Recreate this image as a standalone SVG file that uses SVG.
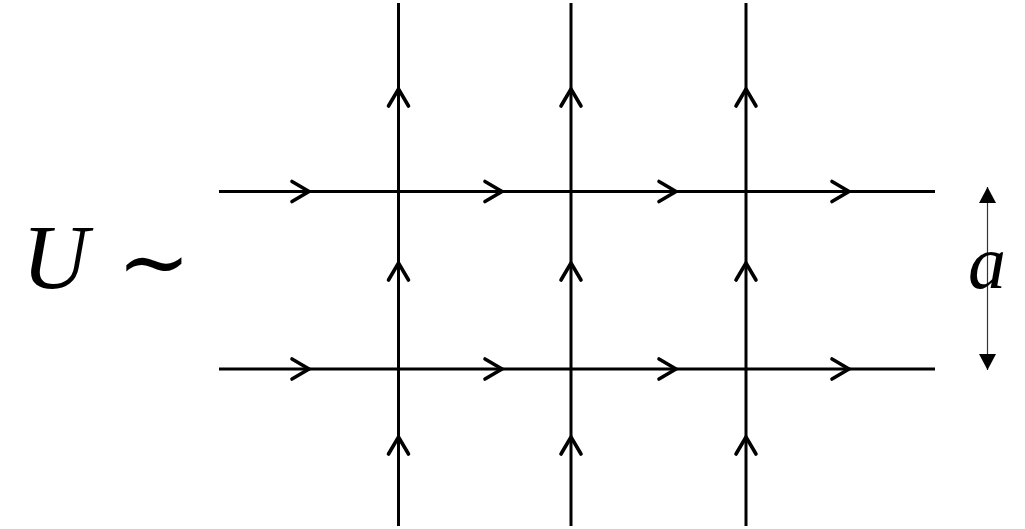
<svg xmlns="http://www.w3.org/2000/svg" xmlns:xlink="http://www.w3.org/1999/xlink" width="1025" height="529" viewBox="0 0 1025 529">
<style>
.ln{stroke:#000;stroke-width:3;fill:none}
.chev{stroke:#000;stroke-width:3.6;fill:none;stroke-linecap:round;stroke-linejoin:miter}
.dim{stroke:#333;stroke-width:1.2;fill:none}
.math{font-family:"Liberation Serif","DejaVu Serif",serif;fill:#000}
</style>
<defs>
<path id="chR" class="chev" d="M -17 -10 L 0 0 L -17 10"/>
<path id="chU" class="chev" d="M -10 17 L 0 0 L 10 17"/>
<marker id="tri" viewBox="0 0 10 10" refX="10" refY="5" markerWidth="16" markerHeight="17" markerUnits="userSpaceOnUse" orient="auto-start-reverse" preserveAspectRatio="none">
<path d="M0,0 L10,5 L0,10 z" fill="#000"/>
</marker>
</defs>
<rect width="1025" height="529" fill="#fff"/>
<g id="connectors">
<g id="horizontal">
<line class="ln" x1="219" y1="191.5" x2="935" y2="191.5"/>
<line class="ln" x1="219" y1="369" x2="935" y2="369"/>
</g>
<g id="vertical">
<line class="ln" x1="398.5" y1="3" x2="398.5" y2="526"/>
<line class="ln" x1="571" y1="3" x2="571" y2="526"/>
<line class="ln" x1="746" y1="3" x2="746" y2="526"/>
</g>
<g id="arrows-h">
<use href="#chR" x="309" y="191.5"/>
<use href="#chR" x="502" y="191.5"/>
<use href="#chR" x="676" y="191.5"/>
<use href="#chR" x="849" y="191.5"/>
<use href="#chR" x="309" y="369"/>
<use href="#chR" x="502" y="369"/>
<use href="#chR" x="676" y="369"/>
<use href="#chR" x="849" y="369"/>
</g>
<g id="arrows-v">
<use href="#chU" x="398.5" y="89"/>
<use href="#chU" x="398.5" y="263"/>
<use href="#chU" x="398.5" y="437"/>
<use href="#chU" x="571" y="89"/>
<use href="#chU" x="571" y="263"/>
<use href="#chU" x="571" y="437"/>
<use href="#chU" x="746" y="89"/>
<use href="#chU" x="746" y="263"/>
<use href="#chU" x="746" y="437"/>
</g>
<g id="dimension">
<line class="dim" x1="987.5" y1="187" x2="987.5" y2="370" marker-start="url(#tri)" marker-end="url(#tri)"/>
</g>
</g>
<g id="label-U">
<text class="math" x="22" y="288" font-size="92" font-style="italic">U</text>
<text class="math" x="117" y="292" font-size="88">∼</text>
</g>
<g id="label-a">
<text class="math" x="968" y="288" font-size="76" font-style="italic">a</text>
</g>
</svg>
